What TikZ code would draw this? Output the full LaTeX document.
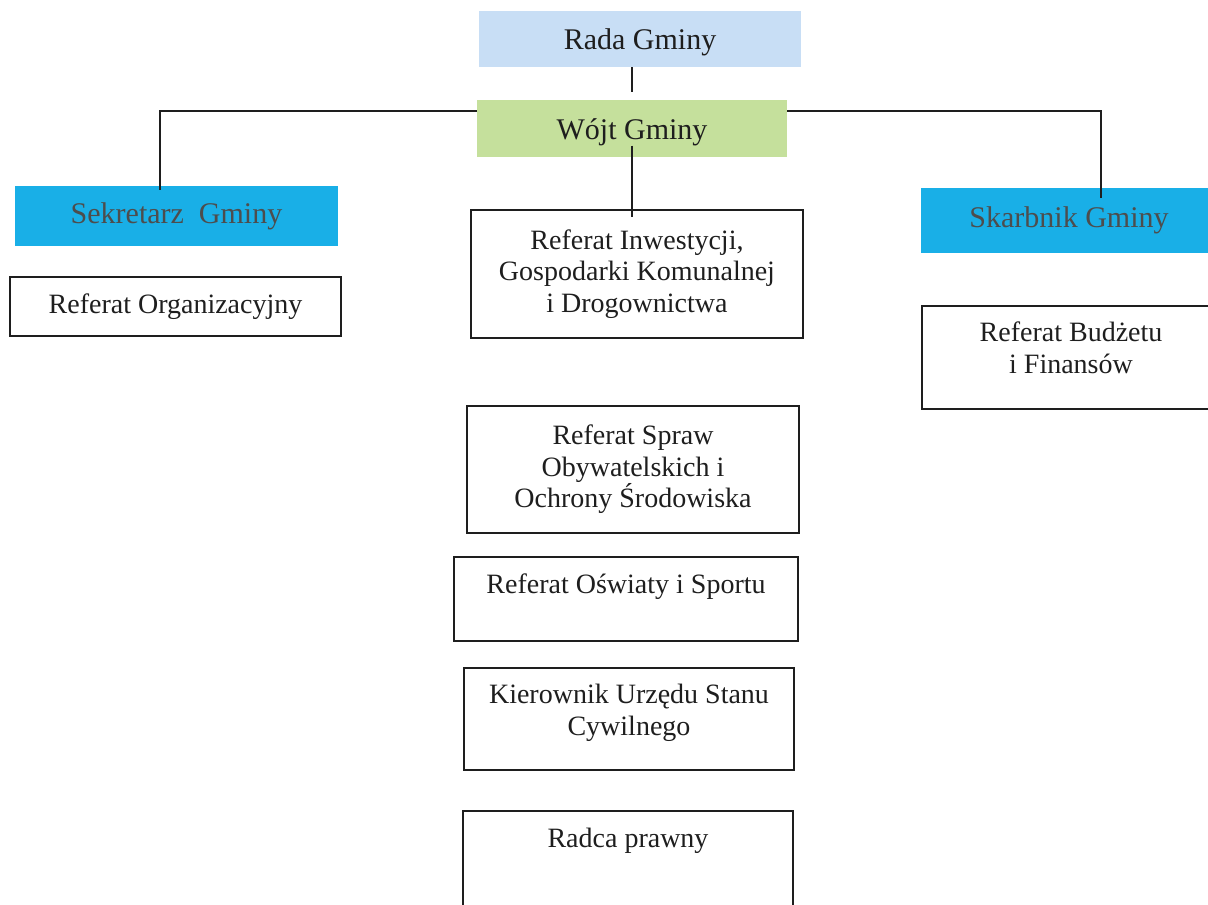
\documentclass[tikz,border=0pt]{standalone}
\usepackage{fontspec}
\setmainfont{Liberation Serif}
\definecolor{radablue}{HTML}{C8DEF5}
\definecolor{wojtgreen}{HTML}{C5E09C}
\definecolor{headcyan}{HTML}{19AFE7}
\definecolor{headtext}{HTML}{4D4D4D}
\definecolor{ink}{HTML}{1E1E1E}
\tikzset{
    unitbox/.style={draw=ink, line width=0.8pt, inner sep=0pt, align=center, text=ink,
        font=\fontsize{14}{15.75}\selectfont},
    headbox/.style={inner sep=0pt, align=center, text=ink, font=\fontsize{15}{17}\selectfont},
    link/.style={draw=ink, line width=0.8pt},
}

\begin{document}
\begin{tikzpicture}[x=0.5pt, y=-0.5pt]
	\clip (0,0) rectangle (1208,904);
	\node[headbox, fill=radablue, text height=13.5pt, minimum width=161pt, minimum height=28pt] (rada) at (640,39) {Rada Gminy};
	\node[headbox, fill=wojtgreen, text height=14pt, minimum width=155pt, minimum height=28.5pt] (wojt) at (632,128.5) {Wójt Gminy};
	\node[headbox, fill=headcyan, text=headtext, minimum width=161.5pt, minimum height=30pt] (sekretarz) at (176.5,216) {Sekretarz\ \ Gminy};
	\node[headbox, fill=headcyan, text=headtext, minimum width=148pt, minimum height=32.5pt] (skarbnik) at (1069,220.5) {Skarbnik Gminy};
	\node[unitbox, minimum width=165.5pt, minimum height=29.5pt] (organizacyjny) at (175.5,306.5) {Referat Organizacyjny};
	\node[unitbox, text depth=10pt, minimum width=149pt, minimum height=51.5pt] (budzet) at (1071,357.5) {Referat Budżetu\\i Finansów};
	\node[unitbox, minimum width=166pt, minimum height=64pt] (inwestycje) at (637,274) {Referat Inwestycji,\\Gospodarki Komunalnej\\i Drogownictwa};
	\node[unitbox, minimum width=166pt, minimum height=63.5pt] (sprawy) at (633,469.5) {Referat Spraw\\Obywatelskich i\\Ochrony Środowiska};
	\node[unitbox, minimum width=172pt, minimum height=42pt] (oswiata) at (626,599) {};
	\node[text=ink, font=\fontsize{14}{15.75}\selectfont] (oswiata-t) at (626,587) {Referat Oświaty i Sportu};
	\node[unitbox, text depth=9pt, minimum width=165pt, minimum height=51pt] (usc) at (629,719) {Kierownik Urzędu Stanu\\Cywilnego};
	\node[unitbox, minimum width=165pt, minimum height=59pt] (radca) at (628,870) {};
	\node[text=ink, font=\fontsize{14}{15.75}\selectfont] (radca-t) at (628,841) {Radca prawny};
	\coordinate (sek-in) at (160,190);
	\coordinate (skarb-in) at (1101,198);
	\draw[link, shorten >=4pt] (rada.south -| wojt.north) -- (wojt.north);
	\draw[link] ([yshift=-8.5pt]wojt.center) -- ([yshift=-4pt]inwestycje.north -| wojt.center);
	\draw[link] ([yshift=8.75pt]wojt.west) -| (sek-in);
	\draw[link] ([yshift=8.75pt]wojt.east) -| (skarb-in);
\end{tikzpicture}
\end{document}
